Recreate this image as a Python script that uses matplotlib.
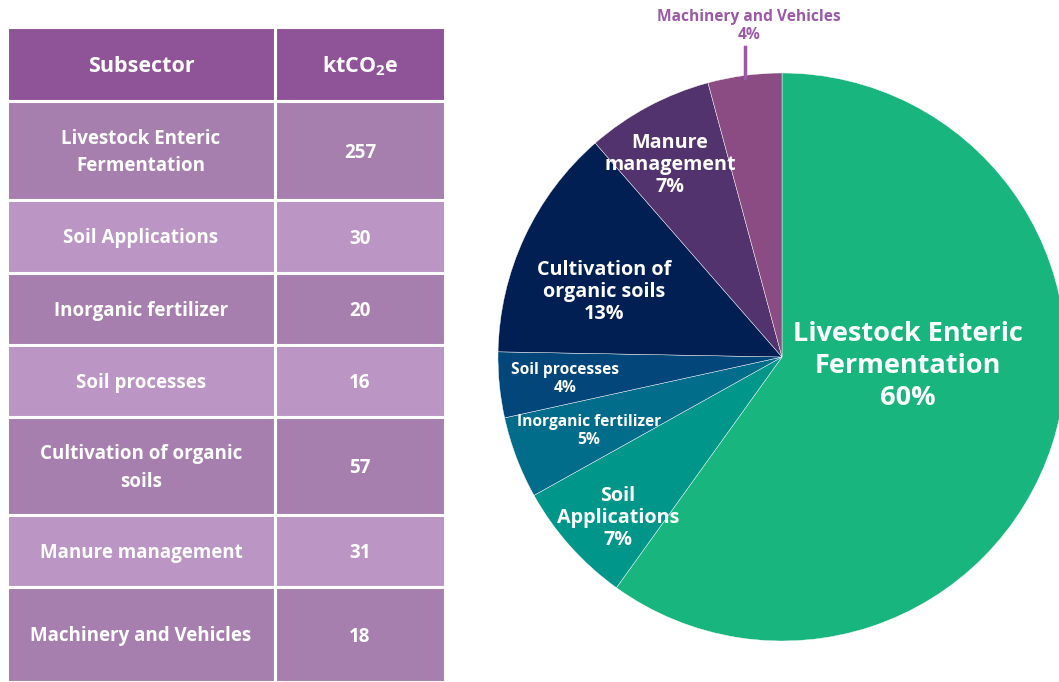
import matplotlib
matplotlib.use("Agg")
import matplotlib.pyplot as plt
from matplotlib.patches import Rectangle

plt.rcParams['font.family'] = ['Open Sans', 'DejaVu Sans']
plt.rcParams['mathtext.fontset'] = 'custom'
plt.rcParams['mathtext.rm'] = 'Open Sans'
plt.rcParams['mathtext.bf'] = 'Open Sans:bold'

# ---- data ----
subsectors = ["Livestock Enteric\nFermentation", "Soil Applications", "Inorganic fertilizer",
              "Soil processes", "Cultivation of organic\nsoils", "Manure management",
              "Machinery and Vehicles"]
values = [257, 30, 20, 16, 57, 31, 18]
pie_names = ["Livestock Enteric\nFermentation", "Soil\nApplications", "Inorganic fertilizer",
             "Soil processes", "Cultivation of\norganic soils", "Manure\nmanagement",
             "Machinery and Vehicles"]
pie_colors = ["#19B57F", "#01968A", "#026C8B", "#03467A", "#021F54", "#52336D", "#8A4C82"]
label_pos = [(908, 366), (618, 518), (589, 431), (565, 379), (604, 292), (670, 165), (749, 26)]
label_size = [19.5, 14.2, 11.2, 11.2, 14.2, 14.2, 11.2]
label_ls = [1.32, 1.15, 1.15, 1.15, 1.15, 1.15, 1.15]

W, H = 1059, 682
fig = plt.figure(figsize=(W / 100, H / 100), dpi=100)
ax = fig.add_axes([0, 0, 1, 1])

# ---- table ----
row_h = [74, 99, 73, 72, 72, 98, 72, 95]
x0, xs, x1 = 7, 275, 445
head_c = "#8F5497"
row_cols = ["#A77FAE", "#BB95C3"]
y = 27
for i, h in enumerate(row_h):
    if i == 0:
        c = head_c
        t1, t2 = "Subsector", r"ktCO$_\mathbf{2}$e"
        fs = 15.5
    else:
        c = row_cols[(i - 1) % 2]
        t1, t2 = subsectors[i - 1], str(values[i - 1])
        fs = 13.5
    for (a, b), t in zip([(x0, xs), (xs, x1)], [t1, t2]):
        ax.add_patch(Rectangle((a, H - y - h), b - a, h, facecolor=c,
                               edgecolor="white", linewidth=2.2))
        ax.text((a + b) / 2, H - y - h / 2 - 2, t, ha="center", va="center",
                color="white", fontsize=fs, fontweight="bold", linespacing=1.5)
    y += h

# ---- pie ----
cx, cy, r = 782, H - 357, 284
total = sum(values)
wedges, _ = ax.pie(values, colors=pie_colors, startangle=90, counterclock=False,
                   center=(cx, cy), radius=r,
                   wedgeprops=dict(edgecolor="white", linewidth=0.3))
for i, (name, v) in enumerate(zip(pie_names, values)):
    pct = f"{round(100 * v / total)}%"
    px, py = label_pos[i]
    col = "white" if i < 6 else "#9B59A8"
    ax.text(px, H - py, f"{name}\n{pct}", ha="center", va="center", color=col,
            fontsize=label_size[i], fontweight="bold", linespacing=label_ls[i])
ax.plot([745, 745], [H - 47, H - 78], color="#9B59A8", linewidth=2.5)

ax.set_xlim(0, W)
ax.set_ylim(0, H)
ax.set_aspect("equal")
ax.axis("off")
fig.savefig("out.png", dpi=100)
